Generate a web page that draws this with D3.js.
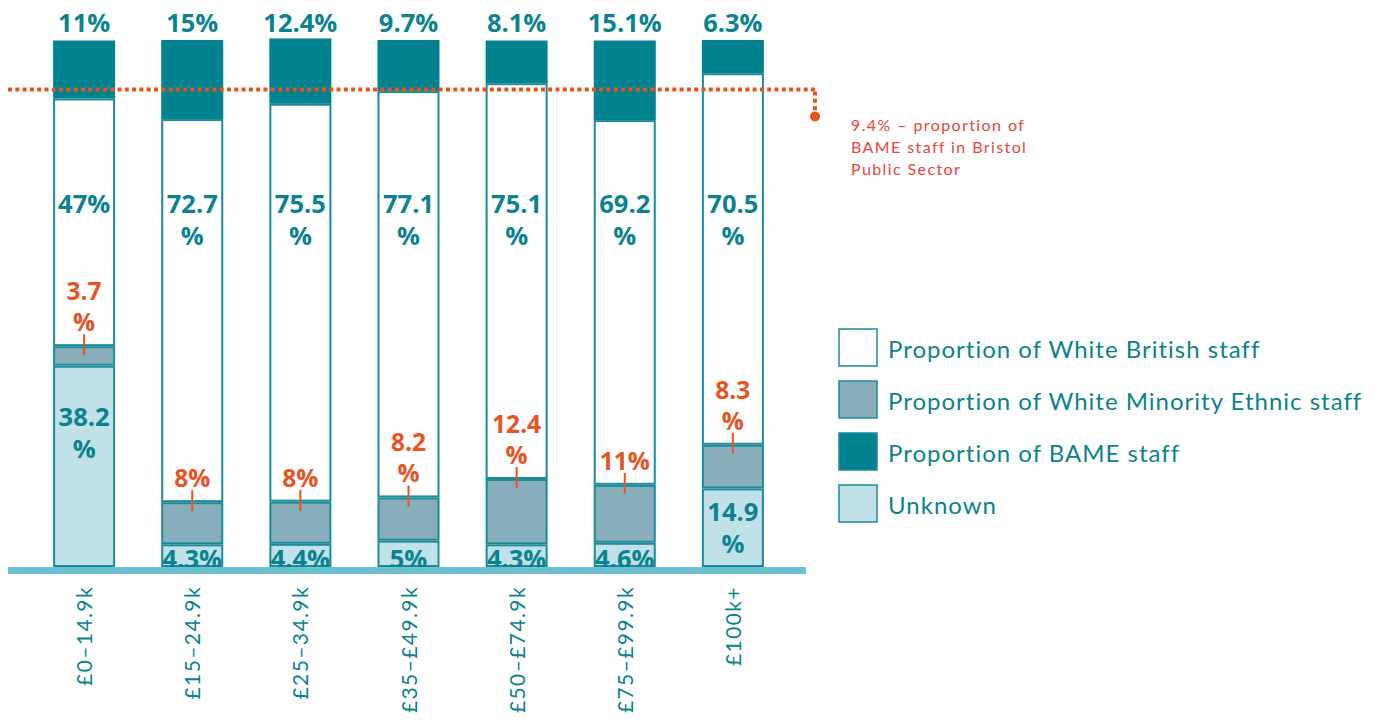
<!DOCTYPE html>
<html>
<head>
<meta charset="utf-8">
<script src="https://cdn.jsdelivr.net/npm/d3@7"></script>
<style>
  html, body { margin: 0; padding: 0; background: #ffffff; }
  svg { display: block; }
  text { font-family: Lato, "Open Sans", sans-serif; }
  .val { font-family: "Open Sans", Lato, sans-serif; font-weight: 700; }
</style>
</head>
<body>
<svg id="chart" width="1383" height="725"></svg>
<script>
// Salary bands
const categories = ["£0–14.9k", "£15–24.9k", "£25–34.9k", "£35–£49.9k", "£50–£74.9k", "£75–£99.9k", "£100k+"];

// Percentages of staff in each band
const unknown       = [38.2, 4.3, 4.4, 5, 4.3, 4.6, 14.9];
const whiteMinority = [3.7, 8, 8, 8.2, 12.4, 11, 8.3];
const whiteBritish  = [47, 72.7, 75.5, 77.1, 75.1, 69.2, 70.5];
const bame          = [11, 15, 12.4, 9.7, 8.1, 15.1, 6.3];

// Bristol public sector BAME benchmark
const benchmark = 9.4;
const benchmarkText = ["9.4% – proportion of", "BAME staff in Bristol", "Public Sector"];

const seriesKeys = ["unknown", "whiteMinority", "whiteBritish", "bame"];
const legendLabels = {
  whiteBritish: "Proportion of White British staff",
  whiteMinority: "Proportion of White Minority Ethnic staff",
  bame: "Proportion of BAME staff",
  unknown: "Unknown"
};
const legendOrder = ["whiteBritish", "whiteMinority", "bame", "unknown"];

const colors = {
  unknown: "#c0e1e7",
  whiteMinority: "#88aebb",
  whiteBritish: "#ffffff",
  bame: "#00828f"
};
const strokeTeal = "#1a8b99";
const textTeal = "#0a8290";
const orange = "#e9531f";

const rows = categories.map((c, i) => ({
  category: c,
  unknown: unknown[i],
  whiteMinority: whiteMinority[i],
  whiteBritish: whiteBritish[i],
  bame: bame[i]
}));

const svg = d3.select("#chart");

const x = d3.scaleBand().domain(categories).range([7, 810]).padding(0.4265);
const y = d3.scaleLinear().domain([0, 100]).range([567, 40]);

const stack = d3.stack().keys(seriesKeys);
const layers = stack(rows);

// Stacked segments
const g = svg.append("g");
layers.forEach(layer => {
  g.selectAll(null)
    .data(layer)
    .enter()
    .append("rect")
    .attr("x", d => x(d.data.category) + 1)
    .attr("width", x.bandwidth() - 2)
    .attr("y", d => y(d[1]) + 1)
    .attr("height", d => Math.max(0, y(d[0]) - y(d[1]) - 2))
    .attr("fill", colors[layer.key])
    .attr("stroke", layer.key === "bame" ? colors.bame : strokeTeal)
    .attr("stroke-width", 2);
});

const boldFont = 25.5;
const lineGap = 32;
const isInteger = v => Number.isInteger(v);

function labelLines(v) {
  return isInteger(v) ? [v + "%"] : [String(v), "%"];
}

// Value label; decimals wrap the % sign onto a second line.
// `baseY` is the baseline of the first line.
function valueLabel(cx, baseY, lines, gap, fill, size) {
  const t = svg.append("text")
    .attr("class", "val")
    .attr("x", cx)
    .attr("y", baseY)
    .attr("text-anchor", "middle")
    .attr("font-size", size || boldFont)
    .attr("fill", fill);
  lines.forEach((s, j) => {
    t.append("tspan")
      .attr("x", cx)
      .attr("dy", j === 0 ? 0 : gap)
      .text(s);
  });
  return t;
}

// BAME labels above bars
rows.forEach(d => {
  valueLabel(x(d.category) + x.bandwidth() / 2, 32, [d.bame + "%"], 0, textTeal);
});

// White British labels
rows.forEach(d => {
  valueLabel(x(d.category) + x.bandwidth() / 2, 213, labelLines(d.whiteBritish), lineGap, textTeal);
});

// White Minority Ethnic labels with leader ticks
rows.forEach(d => {
  const cx = x(d.category) + x.bandwidth() / 2;
  const segTop = y(d.unknown + d.whiteMinority);
  const lines = labelLines(d.whiteMinority);
  const orangeGap = 31;
  valueLabel(cx, segTop - 15 - (lines.length - 1) * orangeGap, lines, orangeGap, orange, 24.5);
  svg.append("line")
    .attr("x1", cx).attr("x2", cx)
    .attr("y1", segTop - 12).attr("y2", segTop + 9)
    .attr("stroke", orange)
    .attr("stroke-width", 2);
});

// Unknown labels
rows.forEach(d => {
  const cx = x(d.category) + x.bandwidth() / 2;
  const segTop = y(d.unknown);
  const segH = y(0) - segTop;
  if (d.unknown < 10) {
    valueLabel(cx, y(0) + 1, [d.unknown + "%"], 0, textTeal);
  } else {
    const lines = labelLines(d.unknown);
    const mid = segTop + Math.min(segH / 2, 67);
    valueLabel(cx, mid - (lines.length - 1) * lineGap / 2 + 9, lines, lineGap, textTeal);
  }
});

// Baseline
svg.append("rect")
  .attr("x", 8)
  .attr("y", y(0))
  .attr("width", 798)
  .attr("height", 7)
  .attr("fill", "#6cc0d0");

// Category labels, rotated
svg.append("g").selectAll("text")
  .data(categories)
  .enter()
  .append("text")
  .attr("transform", c => `translate(${x(c) + x.bandwidth() / 2 + 8},586) rotate(-90)`)
  .attr("text-anchor", "end")
  .attr("font-size", 21)
  .attr("letter-spacing", 1.4)
  .attr("fill", textTeal)
  .text(c => c);

// Benchmark line
const by = y(100 - benchmark);
const endX = 815;
svg.append("line")
  .attr("x1", 8).attr("x2", endX)
  .attr("y1", by).attr("y2", by)
  .attr("stroke", orange)
  .attr("stroke-width", 4)
  .attr("stroke-dasharray", "4,3.3");
svg.append("line")
  .attr("x1", endX).attr("x2", endX)
  .attr("y1", by + 2).attr("y2", by + 24)
  .attr("stroke", orange)
  .attr("stroke-width", 4)
  .attr("stroke-dasharray", "4,3.3");
svg.append("circle")
  .attr("cx", endX).attr("cy", by + 27)
  .attr("r", 5)
  .attr("fill", orange);

svg.append("g").selectAll("text")
  .data(benchmarkText)
  .enter()
  .append("text")
  .attr("x", 851)
  .attr("y", (t, i) => 131 + i * 22)
  .attr("font-size", 16)
  .attr("letter-spacing", 1.4)
  .attr("fill", "#e8453c")
  .text(t => t);

// Legend
const legend = svg.append("g");
legendOrder.forEach((k, i) => {
  const ly = 329 + i * 52;
  legend.append("rect")
    .attr("x", 839).attr("y", ly)
    .attr("width", 38).attr("height", 37)
    .attr("fill", colors[k])
    .attr("stroke", strokeTeal)
    .attr("stroke-width", 1.5);
  legend.append("text")
    .attr("x", 888).attr("y", ly + 29)
    .attr("font-size", 24)
    .attr("letter-spacing", 1)
    .attr("fill", textTeal)
    .text(legendLabels[k]);
});
</script>
</body>
</html>
